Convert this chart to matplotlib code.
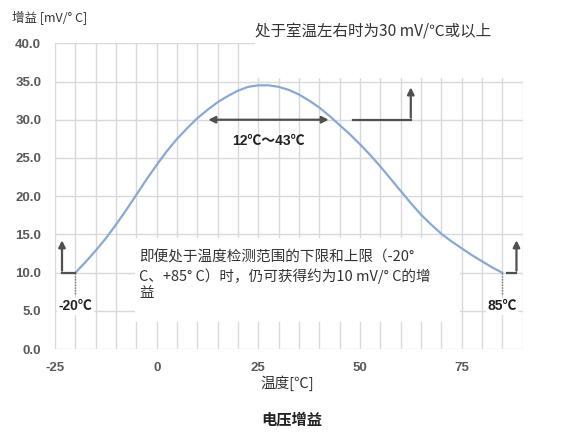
import numpy as np
import matplotlib.pyplot as plt
from matplotlib.patches import Rectangle

plt.rcParams['font.family'] = ['Noto Sans CJK SC', 'DejaVu Sans']
plt.rcParams['axes.unicode_minus'] = False

# gain curve
temp = [-20, -17.5, -15, -12.5, -10, -7.5, -5, -2.5, 0, 2.5, 5, 7.5, 10, 12.5, 15, 17.5, 20, 22.5,
        25, 27.5, 30, 32.5, 35, 37.5, 40, 42.5, 45, 47.5, 50, 52.5, 55, 57.5, 60, 62.5, 65, 67.5,
        70, 72.5, 75, 77.5, 80, 82.5, 85]
gain = [10.0, 11.4, 12.9, 14.5, 16.3, 18.2, 20.2, 22.2, 24.1, 25.9, 27.5, 28.9, 30.2, 31.3, 32.3,
        33.1, 33.8, 34.3, 34.5, 34.5, 34.3, 33.9, 33.3, 32.5, 31.6, 30.5, 29.3, 28.1, 26.8, 25.4,
        23.9, 22.3, 20.7, 19.1, 17.6, 16.3, 15.1, 14.1, 13.2, 12.3, 11.5, 10.7, 10.0]

xticks = [-25, 0, 25, 50, 75]
yticks = [0, 5, 10, 15, 20, 25, 30, 35, 40]
range_lo, range_hi = 12, 43

fig = plt.figure(figsize=(5.68, 4.37), dpi=100)
ax = fig.add_axes([0.097, 0.201, 0.823, 0.700])

grid_c = '#d9d9d9'
for gx in np.arange(-25, 91, 5):
    ax.axvline(gx, color=grid_c, lw=1, zorder=0)
for gy in yticks:
    ax.axhline(gy, color=grid_c, lw=1, zorder=0)

# white areas behind the notes
ax.add_patch(Rectangle((-5.3, 3.5), 79.9, 11.0, facecolor='white', edgecolor='none', zorder=1))
ax.add_patch(Rectangle((24.2, 35.4), 67, 7, facecolor='white', edgecolor='none', zorder=1,
                       clip_on=False))

ax.plot(temp, gain, color='#88a9d3', lw=1.6, zorder=3)

ax.set_xlim(-25, 90)
ax.set_ylim(0, 40)
for s in ax.spines.values():
    s.set_visible(False)
ax.set_xticks(xticks)
ax.set_yticks(yticks)
ax.set_yticklabels([f'{v:.1f}' for v in yticks])
ax.tick_params(length=0, colors='#595959', labelsize=9.5)
ax.tick_params(axis='x', pad=9)
ax.tick_params(axis='y', pad=10)
for lab in ax.get_xticklabels() + ax.get_yticklabels():
    lab.set_fontfamily('Liberation Sans')
    lab.set_fontweight('bold')

arrow_c = '#505050'
# 12 - 43 range arrow
ax.annotate('', xy=(range_lo, 30), xytext=(range_hi, 30),
            arrowprops=dict(arrowstyle='<|-|>', color=arrow_c, lw=1.6, mutation_scale=10), zorder=4)
ax.text((range_lo + range_hi) / 2, 27.2, '12℃～43℃', ha='center', va='center',
        fontsize=10, fontweight='bold', family=['Liberation Sans', 'Noto Sans CJK SC'], color='#222222')

# bent arrows
ax.plot([48.2, 62.5], [30, 30], color=arrow_c, lw=1.6, zorder=4)
ax.annotate('', xy=(62.5, 34.6), xytext=(62.5, 29.9),
            arrowprops=dict(arrowstyle='-|>', color=arrow_c, lw=1.6, mutation_scale=10), zorder=4)
ax.plot([-20, -23.3], [10, 10], color=arrow_c, lw=1.6, zorder=4)
ax.annotate('', xy=(-23.3, 14.6), xytext=(-23.3, 9.9),
            arrowprops=dict(arrowstyle='-|>', color=arrow_c, lw=1.6, mutation_scale=10), zorder=4)
ax.plot([86.2, 88.5], [10, 10], color=arrow_c, lw=1.6, zorder=4)
ax.annotate('', xy=(88.5, 14.6), xytext=(88.5, 9.9),
            arrowprops=dict(arrowstyle='-|>', color=arrow_c, lw=1.6, mutation_scale=10), zorder=4)

# end markers
for ex in [-20, 85]:
    ax.plot([ex, ex], [10, 7.2], color='#777777', lw=1, ls=(0, (1, 1)), zorder=4)
ax.text(-20, 5.6, '-20℃', ha='center', va='center', fontsize=10, fontweight='bold',
        family=['Liberation Sans', 'Noto Sans CJK SC'], color='#222222', zorder=5,
        bbox=dict(facecolor='white', edgecolor='none', pad=1))
ax.text(85, 5.6, '85℃', ha='center', va='center', fontsize=10, fontweight='bold',
        family=['Liberation Sans', 'Noto Sans CJK SC'], color='#222222', zorder=5,
        bbox=dict(facecolor='white', edgecolor='none', pad=1))

# note texts
ax.text(-4.3, 12.9, '即便处于温度检测范围的下限和上限（-20°\nC、+85° C）时，仍可获得约为10 mV/° C的增\n益',
        ha='left', va='top', fontsize=10.5, color='#333333', linespacing=1.25, zorder=5)
ax.text(24.3, 41.5, '处于室温左右时为30 mV/℃或以上', ha='left', va='center', fontsize=11.2,
        color='#333333', zorder=5, clip_on=False)

fig.text(0.021, 0.958, '增益 [mV/° C]', ha='left', va='center', fontsize=9, color='#333333')
fig.text(0.505, 0.124, '温度[℃]', ha='center', va='center', fontsize=10.5, color='#333333')
fig.text(0.513, 0.040, '电压增益', ha='center', va='center', fontsize=11, fontweight='bold',
         style='italic', color='#222222')

fig.savefig('out.png', dpi=100)
